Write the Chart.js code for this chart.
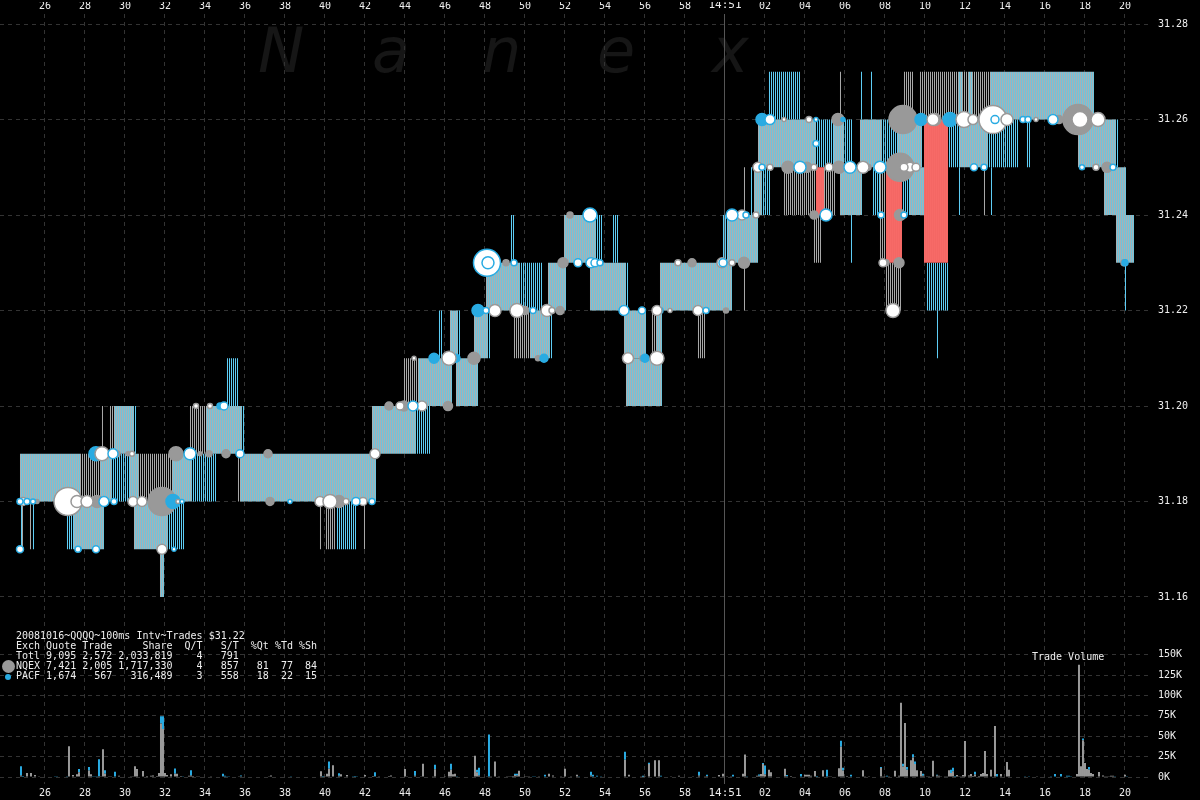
<!DOCTYPE html>
<html>
<head>
<meta charset="utf-8">
<title>QQQQ trades</title>
<script src="https://cdn.jsdelivr.net/npm/chart.js@4/dist/chart.umd.min.js"></script>
<style>
  html, body { margin: 0; padding: 0; background: #000; overflow: hidden; }
  #wrap { position: relative; width: 1200px; height: 800px; }
  #mark { position: absolute; left: 0; top: 1px; color: #161616; font: italic 62px "DejaVu Sans", sans-serif; }
  #mark span { position: absolute; top: 0; line-height: 100px; }
  #prod-chart { position: absolute; left: 0; top: 0; }
  #stats { position: absolute; left: 16px; top: 631px; margin: 0; color: #eee; font: 10px/10px "DejaVu Sans Mono", monospace; }
  #volume-title { position: absolute; left: 1032px; top: 652px; color: #eee; font: 10px/10px "DejaVu Sans Mono", monospace; }
  .dot { position: absolute; border-radius: 50%; }
</style>
</head>
<body>
<div id="wrap">
  <div id="mark"></div>
  <canvas id="prod-chart" width="1200" height="800"></canvas>
  <pre id="stats"></pre>
  <div id="volume-title">Trade Volume</div>
  <div class="dot" style="left:2px;top:660px;width:13px;height:13px;background:#999"></div>
  <div class="dot" style="left:5px;top:674px;width:6px;height:6px;background:#29abe2"></div>
</div>
<script>
'use strict';
// ******* TEXT ********
let markLetters = ['N', 'a', 'n', 'e', 'x'];
let markLefts = [258, 372, 482, 597, 712];
let statsLines = [
  '20081016~QQQQ~100ms Intv~Trades $31.22',
  'Exch Quote Trade     Share  Q/T   S/T  %Qt %Td %Sh',
  'Totl 9,095 2,572 2,033,819    4   791',
  'NQEX 7,421 2,005 1,717,330    4   857   81  77  84',
  'PACF 1,674   567   316,489    3   558   18  22  15'
];

// ******* TICKS ********
let secondTicks = [26, 28, 30, 32, 34, 36, 38, 40, 42, 44, 46, 48, 50, 52, 54, 56, 58, 60, 62, 64, 66, 68, 70, 72, 74, 76, 78, 80];
let secondLabels = ['26', '28', '30', '32', '34', '36', '38', '40', '42', '44', '46', '48', '50', '52', '54', '56', '58', '14:51', '02', '04', '06', '08', '10', '12', '14', '16', '18', '20'];
let priceTicks = [31.16, 31.18, 31.20, 31.22, 31.24, 31.26, 31.28];
let volumeTicks = [0, 25000, 50000, 75000, 100000, 125000, 150000];
let volumeLabels = ['0K', '25K', '50K', '75K', '100K', '125K', '150K'];

// ******* QUOTES: [from second, to second, low, high] ********
let bothQuotes = [
  [24.8, 27.8, 31.18, 31.19], [28.8, 29.4, 31.18, 31.19], [30.3, 30.7, 31.18, 31.19],
  [32.4, 33.4, 31.18, 31.19], [35.8, 42.6, 31.18, 31.19],
  [29.5, 30.5, 31.19, 31.20], [34.1, 35.9, 31.19, 31.20], [42.4, 44.6, 31.19, 31.20],
  [27.5, 29.0, 31.17, 31.18], [30.5, 32.2, 31.17, 31.18], [31.8, 32.0, 31.16, 31.17],
  [44.7, 46.4, 31.20, 31.21], [46.6, 47.7, 31.20, 31.21], [55.1, 56.4, 31.20, 31.21], [56.4, 56.9, 31.20, 31.21],
  [46.3, 46.7, 31.21, 31.22], [47.5, 48.2, 31.21, 31.22], [50.3, 51.3, 31.21, 31.22],
  [55.0, 56.1, 31.21, 31.22], [56.6, 56.9, 31.21, 31.22],
  [48.1, 49.8, 31.22, 31.23], [51.2, 52.1, 31.22, 31.23], [53.3, 55.1, 31.22, 31.23], [56.8, 60.4, 31.22, 31.23],
  [52.0, 53.6, 31.23, 31.24], [60.2, 61.7, 31.23, 31.24], [79.6, 80.5, 31.23, 31.24],
  [61.5, 61.9, 31.24, 31.25], [65.8, 66.9, 31.24, 31.25], [69.3, 70.0, 31.24, 31.25], [79.0, 80.1, 31.24, 31.25],
  [61.7, 64.6, 31.25, 31.26], [65.5, 66.0, 31.25, 31.26], [66.8, 67.9, 31.25, 31.26],
  [68.7, 69.9, 31.25, 31.26], [71.8, 73.2, 31.25, 31.26], [77.7, 79.6, 31.25, 31.26],
  [73.3, 78.5, 31.26, 31.27], [72.2, 72.4, 31.26, 31.27], [71.7, 71.9, 31.26, 31.27]
];
let nqexQuotes = [
  [27.8, 28.8, 31.18, 31.19], [30.7, 32.4, 31.18, 31.19], [35.7, 35.8, 31.18, 31.19],
  [28.9, 29.0, 31.19, 31.20], [29.3, 29.5, 31.19, 31.20], [33.3, 34.1, 31.19, 31.20],
  [24.9, 25.0, 31.17, 31.18], [25.3, 25.4, 31.17, 31.18], [39.8, 39.9, 31.17, 31.18],
  [40.1, 40.6, 31.17, 31.18], [42.0, 42.1, 31.17, 31.18],
  [44.0, 44.7, 31.20, 31.21], [49.5, 50.3, 31.21, 31.22], [56.4, 56.6, 31.21, 31.22], [58.7, 59.1, 31.21, 31.22],
  [61.0, 61.1, 31.24, 31.25], [63.0, 64.6, 31.24, 31.25], [65.0, 65.6, 31.24, 31.25], [67.8, 68.1, 31.24, 31.25], [73.0, 73.1, 31.24, 31.25],
  [69.0, 69.5, 31.26, 31.27], [69.8, 71.7, 31.26, 31.27], [71.9, 72.2, 31.26, 31.27], [72.4, 73.3, 31.26, 31.27], [65.8, 65.9, 31.26, 31.27],
  [64.5, 64.9, 31.23, 31.24], [67.8, 68.1, 31.23, 31.24],
  [68.1, 68.9, 31.22, 31.23], [61.0, 61.1, 31.22, 31.23], [60.1, 60.2, 31.22, 31.23]
];
let pacfQuotes = [
  [29.4, 30.3, 31.18, 31.19], [33.4, 34.6, 31.18, 31.19],
  [30.5, 30.6, 31.19, 31.20], [35.9, 36.0, 31.19, 31.20], [44.6, 45.3, 31.19, 31.20],
  [35.1, 35.7, 31.20, 31.21],
  [24.8, 24.9, 31.17, 31.18], [25.4, 25.5, 31.17, 31.18], [27.1, 27.5, 31.17, 31.18], [32.2, 33.0, 31.17, 31.18], [40.6, 41.6, 31.17, 31.18],
  [45.7, 45.9, 31.21, 31.22], [46.7, 46.8, 31.21, 31.22], [48.2, 48.3, 31.21, 31.22], [51.3, 51.4, 31.21, 31.22], [70.6, 70.7, 31.21, 31.22],
  [49.8, 50.9, 31.22, 31.23], [55.1, 55.2, 31.22, 31.23], [70.1, 71.2, 31.22, 31.23], [80.0, 80.1, 31.22, 31.23],
  [49.3, 49.5, 31.23, 31.24], [53.6, 53.9, 31.23, 31.24], [54.4, 54.7, 31.23, 31.24], [59.9, 60.2, 31.23, 31.24], [66.3, 66.4, 31.23, 31.24],
  [61.3, 61.4, 31.24, 31.25], [61.9, 62.3, 31.24, 31.25], [67.4, 67.8, 31.24, 31.25], [68.9, 69.3, 31.24, 31.25], [71.7, 71.8, 31.24, 31.25], [73.3, 73.4, 31.24, 31.25],
  [64.6, 65.5, 31.25, 31.26], [66.0, 66.4, 31.25, 31.26], [67.9, 68.7, 31.25, 31.26], [71.2, 71.8, 31.25, 31.26], [73.2, 74.7, 31.25, 31.26], [75.1, 75.3, 31.25, 31.26], [79.6, 79.7, 31.25, 31.26],
  [62.2, 63.8, 31.26, 31.27], [66.8, 66.9, 31.26, 31.27], [67.3, 67.4, 31.26, 31.27]
];
let crossedQuotes = [
  [64.6, 65.0, 31.24, 31.25], [68.1, 68.9, 31.23, 31.25], [70.0, 71.2, 31.23, 31.26]
];

// ******* TRADES: [second, price, shares] ********
let grayTrades = [
  [25.6, 31.18, 1600], [31.85, 31.18, 78400], [37.25, 31.18, 6400], [28.6, 31.18, 14400], [40.7, 31.18, 14400],
  [29.6, 31.19, 3600], [30.15, 31.19, 1600], [32.55, 31.19, 19600], [33.75, 31.19, 1600], [34.2, 31.19, 3600],
  [35.05, 31.19, 6400], [37.15, 31.19, 6400], [43.2, 31.20, 6400], [43.95, 31.20, 10000], [46.15, 31.20, 8100],
  [47.45, 31.21, 14400], [50.65, 31.21, 2500], [50.0, 31.22, 6400], [51.75, 31.22, 6400], [60.05, 31.22, 2500],
  [49.05, 31.23, 3600], [51.9, 31.23, 10000], [58.35, 31.23, 6400], [52.25, 31.24, 3600], [60.95, 31.23, 12100],
  [68.05, 31.23, 3600], [68.7, 31.23, 10000], [64.45, 31.24, 6400], [68.75, 31.24, 12100], [63.15, 31.25, 14400],
  [64.1, 31.25, 10000], [65.7, 31.25, 14400], [67.15, 31.25, 3600], [68.75, 31.25, 78400], [79.1, 31.25, 10000],
  [65.65, 31.26, 14400], [68.9, 31.26, 78400], [70.5, 31.26, 14400], [76.7, 31.26, 6400], [77.65, 31.26, 90000],
  [55.9, 31.21, 3600], [79.95, 31.23, 3600]
];
let blueTrades = [
  [28.55, 31.19, 19600], [32.4, 31.18, 19600], [34.75, 31.20, 3600], [45.45, 31.21, 10000], [46.55, 31.21, 6400],
  [50.95, 31.21, 6400], [56.0, 31.21, 6400], [47.65, 31.22, 14400], [56.75, 31.22, 3600], [61.85, 31.26, 14400],
  [65.9, 31.26, 1600], [69.8, 31.26, 14400], [71.25, 31.26, 19600], [80.0, 31.23, 3600], [27.7, 31.17, 1600]
];
let whiteGrayTrades = [
  [27.15, 31.18, 78400], [73.4, 31.26, 78400],
  [27.6, 31.18, 14400], [28.1, 31.18, 14400], [24.9, 31.18, 6400], [30.4, 31.18, 10000], [30.85, 31.18, 10000],
  [32.65, 31.18, 1600], [39.75, 31.18, 10000], [40.25, 31.18, 19600], [28.85, 31.19, 19600], [42.5, 31.19, 10000],
  [43.75, 31.20, 6400], [31.85, 31.17, 10000], [46.2, 31.21, 19600], [56.6, 31.21, 19600], [55.15, 31.21, 12100],
  [48.5, 31.22, 14400], [49.6, 31.22, 19600], [51.1, 31.22, 14400], [56.6, 31.22, 10000], [58.65, 31.22, 10000],
  [59.85, 31.23, 10000], [60.85, 31.24, 10000], [67.9, 31.23, 6400], [68.4, 31.22, 19600], [61.65, 31.25, 10000],
  [65.2, 31.25, 6400], [66.9, 31.25, 14400], [69.25, 31.25, 10000], [69.55, 31.25, 6400], [70.4, 31.26, 14400],
  [71.95, 31.26, 25600], [72.4, 31.26, 10000], [74.1, 31.26, 14400], [78.65, 31.26, 19600], [77.75, 31.26, 25600],
  [41.9, 31.18, 6400], [30.35, 31.19, 2500], [33.55, 31.20, 2500], [34.25, 31.20, 2500], [41.05, 31.18, 3600],
  [44.45, 31.21, 1600], [44.85, 31.20, 10000], [57.25, 31.22, 1600], [57.65, 31.23, 3600], [60.35, 31.23, 3600],
  [61.55, 31.24, 3600], [62.25, 31.25, 3600], [64.45, 31.25, 3600], [62.95, 31.26, 1600], [64.2, 31.26, 3600],
  [51.35, 31.22, 3600], [68.95, 31.25, 6400], [75.55, 31.26, 1600], [78.55, 31.25, 3600]
];
let whiteBlueTrades = [
  [48.1, 31.23, 72900], [48.15, 31.23, 14400],
  [24.75, 31.18, 3600], [25.1, 31.18, 3600], [25.4, 31.18, 2500], [28.95, 31.18, 10000], [29.45, 31.18, 3600],
  [32.85, 31.18, 1600], [38.25, 31.18, 1600], [41.55, 31.18, 6400], [42.35, 31.18, 3600], [29.4, 31.19, 10000],
  [33.25, 31.19, 14400], [35.75, 31.19, 6400], [34.95, 31.20, 6400], [44.4, 31.20, 10000], [24.75, 31.17, 4900],
  [27.65, 31.17, 3600], [28.55, 31.17, 4900], [32.45, 31.17, 1600], [48.05, 31.22, 3600], [50.4, 31.22, 3600],
  [54.95, 31.22, 10000], [55.85, 31.22, 4900], [59.05, 31.22, 3600], [49.45, 31.23, 3600], [52.65, 31.23, 6400],
  [53.3, 31.23, 10000], [53.5, 31.23, 6400], [53.75, 31.23, 3600], [60.35, 31.24, 14400], [53.25, 31.24, 19600],
  [59.9, 31.23, 6400], [61.05, 31.24, 3600], [65.05, 31.24, 14400], [67.8, 31.24, 3600], [68.95, 31.24, 3600],
  [61.85, 31.25, 3600], [63.75, 31.25, 14400], [66.25, 31.25, 14400], [67.75, 31.25, 14400], [72.45, 31.25, 4900],
  [72.95, 31.25, 3600], [77.85, 31.25, 2500], [79.4, 31.25, 3600], [64.55, 31.255, 3600], [62.25, 31.26, 10000],
  [64.55, 31.26, 1600], [74.9, 31.26, 3600], [75.15, 31.26, 3600], [76.4, 31.26, 10000], [73.5, 31.26, 6400]
];

// ******* VOLUME: [second, nqex shares, pacf shares] ********
let volumeBars = [
  [24.8, 2000, 11100], [24.9, 0, 1200], [25.1, 4900, 0], [25.3, 4900, 0], [25.5, 2500, 0], [25.7, 800, 0],
  [26.5, 0, 400], [26.6, 0, 400], [27.1, 0, 800], [27.2, 37700, 0], [27.4, 2500, 0], [27.6, 3300, 0], [27.7, 6000, 3800],
  [28.2, 8000, 4300], [28.3, 3300, 0], [28.4, 0, 400], [28.5, 0, 400], [28.6, 0, 400], [28.7, 1000, 20700], [28.8, 400, 0],
  [28.9, 34000, 0], [29.0, 4000, 4200], [29.2, 400, 0], [29.3, 400, 0], [29.5, 0, 6600], [29.7, 1600, 0],
  [30.3, 400, 0], [30.4, 400, 0], [30.5, 13100, 0], [30.6, 9800, 0], [30.9, 7400, 0], [31.1, 1200, 0], [31.3, 1600, 0], [31.4, 2000, 0],
  [31.6, 1200, 0], [31.7, 4900, 0], [31.8, 65600, 9000], [31.9, 59000, 15600], [32.0, 4900, 0], [32.1, 2500, 0],
  [32.3, 3300, 0], [32.5, 4000, 6600], [32.6, 4100, 0], [32.8, 1200, 0], [32.9, 0, 800], [33.2, 1600, 0], [33.3, 2000, 6200],
  [33.4, 1200, 0], [33.6, 400, 0], [33.7, 400, 0], [34.3, 400, 0], [34.9, 1000, 3100], [35.0, 0, 1600], [35.1, 0, 400], [35.2, 0, 400],
  [35.7, 800, 0], [35.8, 1000, 1000], [37.2, 400, 0], [37.3, 2000, 0], [38.3, 0, 800], [39.8, 7000, 0], [39.9, 0, 1200], [40.0, 400, 0],
  [40.1, 4000, 0], [40.2, 10000, 9000], [40.4, 14400, 0], [40.7, 1500, 3000], [40.8, 3300, 0], [41.1, 2500, 0], [41.4, 0, 400],
  [41.5, 0, 1200], [41.6, 0, 800], [42.0, 2500, 0], [42.4, 1200, 0], [42.5, 1000, 4700], [42.7, 400, 0], [43.2, 1200, 0], [43.3, 2000, 0],
  [44.0, 9800, 0], [44.1, 400, 0], [44.5, 1600, 5800], [44.8, 400, 0], [44.9, 16400, 0], [45.4, 400, 0], [45.5, 9500, 5700],
  [46.0, 400, 0], [46.2, 6600, 0], [46.3, 9000, 7400], [46.4, 3300, 0], [46.5, 4100, 0], [46.6, 0, 800],
  [47.5, 26200, 0], [47.6, 6000, 3000], [47.7, 2000, 9500], [48.1, 400, 0], [48.2, 0, 52100], [48.3, 400, 0], [48.5, 18900, 0], [48.7, 400, 0],
  [49.1, 400, 0], [49.2, 400, 0], [49.3, 400, 0], [49.4, 1200, 0], [49.5, 2500, 1600], [49.6, 2000, 2100], [49.7, 7800, 0],
  [50.0, 400, 0], [50.1, 400, 0], [50.2, 400, 0], [50.4, 0, 400], [50.5, 0, 400], [50.7, 400, 0], [51.0, 0, 2900], [51.2, 4100, 0], [51.4, 2000, 0],
  [51.8, 400, 0], [52.0, 10200, 0], [52.3, 400, 0], [52.6, 2900, 0], [52.7, 0, 400], [53.3, 2000, 4600], [53.4, 0, 2900], [53.6, 0, 1600], [53.8, 0, 400],
  [55.0, 21300, 9800], [55.2, 2900, 0], [55.8, 400, 0], [55.9, 200, 1400], [56.0, 400, 0], [56.2, 16000, 1600], [56.5, 20500, 0], [56.7, 20500, 0], [56.8, 0, 1600],
  [57.3, 400, 0], [57.7, 1600, 0], [58.4, 400, 0], [58.7, 2000, 4500], [59.0, 800, 0], [59.1, 1200, 1600], [59.7, 2500, 0], [59.9, 4100, 0],
  [60.1, 400, 0], [60.3, 400, 0], [60.4, 0, 2900], [60.9, 4100, 0], [61.0, 27500, 0], [61.1, 0, 400], [61.6, 1600, 0], [61.7, 1600, 1600], [61.8, 3700, 0],
  [61.9, 16000, 1200], [62.0, 3000, 11000], [62.2, 9000, 0], [62.3, 5700, 0], [63.0, 10200, 0], [63.1, 1000, 1500], [63.3, 1200, 0],
  [63.8, 0, 3700], [64.0, 2900, 0], [64.1, 2900, 0], [64.2, 2900, 0], [64.3, 1600, 0], [64.5, 7400, 0], [64.6, 0, 1200], [64.9, 8200, 0], [65.1, 0, 9000],
  [65.2, 400, 0], [65.3, 400, 0], [65.7, 10700, 0], [65.8, 37000, 7400], [65.9, 8000, 3500], [66.1, 1200, 0], [66.3, 0, 2900], [66.9, 8200, 0], [67.0, 800, 0], [67.2, 400, 0],
  [67.8, 11000, 1300], [67.9, 400, 0], [68.0, 400, 0], [68.1, 0, 1600], [68.2, 400, 0], [68.5, 7800, 0], [68.7, 1600, 0], [68.8, 91000, 0], [68.9, 13000, 3400],
  [69.0, 66400, 0], [69.1, 9000, 3300], [69.3, 20500, 0], [69.4, 24000, 3900], [69.5, 16000, 2900], [69.6, 8200, 0], [69.8, 7400, 0], [69.9, 1500, 2600],
  [70.1, 400, 0], [70.2, 400, 0], [70.4, 20100, 0], [70.6, 2000, 900], [70.7, 1600, 0], [70.8, 800, 0], [71.0, 400, 0], [71.1, 400, 0], [71.2, 8200, 0],
  [71.3, 5000, 4000], [71.4, 7000, 4500], [71.5, 0, 1200], [71.6, 2500, 0], [71.7, 400, 0], [71.8, 400, 0], [71.9, 2500, 0], [72.0, 44300, 0], [72.2, 2000, 0],
  [72.3, 3700, 0], [72.4, 1200, 0], [72.5, 3000, 3500], [72.7, 1200, 0], [72.8, 3700, 0], [72.9, 4900, 0], [73.0, 32000, 0], [73.1, 3700, 0], [73.3, 9000, 0],
  [73.5, 62700, 0], [73.6, 0, 3700], [73.8, 3700, 0], [74.1, 18500, 0], [74.2, 9000, 0], [75.0, 0, 400], [75.2, 0, 400], [75.6, 400, 0], [76.3, 0, 400],
  [76.5, 0, 3700], [76.8, 0, 3700], [77.1, 0, 1600], [77.2, 0, 1600], [77.3, 0, 400], [77.6, 3700, 0], [77.7, 137800, 0], [77.8, 13100, 0], [77.9, 45000, 2200],
  [78.0, 17200, 0], [78.1, 9800, 0], [78.2, 9000, 3300], [78.3, 4900, 0], [78.4, 3700, 0], [78.7, 6100, 0], [78.9, 2000, 0], [79.0, 400, 0], [79.1, 400, 0], [79.2, 400, 0],
  [79.3, 1600, 0], [79.4, 1600, 0], [79.5, 0, 400], [80.0, 2900, 0], [80.1, 0, 400]
];


// ******* HELPERS ********
// each quote row holds for a run of 100ms intervals, one stripe per interval
function stripes(rows, shift) {
  let bars = [];
  for (let i = 0; i < rows.length; i++) {
    let first = Math.round(rows[i][0] * 10);
    let last = Math.round(rows[i][1] * 10);
    for (let n = first; n < last; n++) {
      bars.push({ x: n / 10 + shift, y: [rows[i][2], rows[i][3]] });
    }
  }
  return bars;
}

function bubbles(rows) {
  return rows.map(function (row) {
    return { x: row[0], y: row[1], r: Math.sqrt(row[2]) * 0.05 };
  });
}

function quoteSet(rows, color, width, shift, order) {
  return {
    type: 'bar',
    data: stripes(rows, shift),
    xAxisID: 'x',
    yAxisID: 'y',
    backgroundColor: color,
    borderWidth: 0,
    inflateAmount: 0,
    grouped: false,
    barPercentage: 20,
    maxBarThickness: width,
    order: order
  };
}

function volumeSet(column, color, order) {
  return {
    type: 'bar',
    data: volumeBars.map(function (row) {
      return { x: row[0], y: row[column] };
    }),
    xAxisID: 'x',
    yAxisID: 'yVolume',
    stack: 'volume',
    backgroundColor: color,
    borderWidth: 0,
    inflateAmount: 0,
    grouped: false,
    barPercentage: 20,
    maxBarThickness: 2,
    order: order
  };
}

function tradeSet(rows, fill, line, order) {
  return {
    type: 'bubble',
    data: bubbles(rows),
    xAxisID: 'x',
    yAxisID: 'y',
    backgroundColor: fill,
    borderColor: line,
    borderWidth: 1.5,
    order: order
  };
}

function fixedTicks(values) {
  return function (axis) {
    axis.ticks = values.map(function (value) {
      return { value: value };
    });
  };
}


// ******* EXECUTABLE CODE ********
let markElem = document.getElementById('mark');
for (let i = 0; i < markLetters.length; i++) {
  let letter = document.createElement('span');
  letter.textContent = markLetters[i];
  letter.style.left = markLefts[i] + 'px';
  markElem.appendChild(letter);
}
document.getElementById('stats').textContent = statsLines.join('\n');

let tickFont = { family: '"DejaVu Sans Mono", monospace', size: 10 };
let hugeFont = { family: '"DejaVu Sans Mono", monospace', size: 11 };
let dashGrid = { color: '#333', drawTicks: false };

let firstSecond = 23.7505;
let lastSecond = firstSecond + 57.5;

let chartObj = {
  type: 'bar',
  data: {
    datasets: [
      tradeSet(whiteBlueTrades, '#fff', '#29abe2', 1),
      tradeSet(whiteGrayTrades, '#fff', '#999', 2),
      tradeSet(blueTrades, '#29abe2', '#29abe2', 3),
      tradeSet(grayTrades, '#999', '#999', 4),
      quoteSet(crossedQuotes, '#f76a67', 2, 0, 5),
      quoteSet(bothQuotes, '#aab4b8', 1, -0.025, 6),
      quoteSet(bothQuotes, '#70c8e0', 1, 0.025, 7),
      quoteSet(nqexQuotes, '#aaa', 1, -0.025, 8),
      quoteSet(pacfQuotes, '#60d0f8', 1, 0.025, 9),
      volumeSet(1, '#999', 10),
      volumeSet(2, '#29abe2', 11)
    ]
  },
  options: {
    responsive: false,
    animation: false,
    events: [],
    layout: { padding: 0, autoPadding: false },
    plugins: { legend: { display: false }, tooltip: { enabled: false } },
    scales: {
      x: {
        type: 'linear',
        position: 'bottom',
        offset: false,
        min: firstSecond,
        max: lastSecond,
        afterBuildTicks: fixedTicks(secondTicks),
        afterFit: function (axis) { axis.height = 16; },
        border: {
          display: false,
          dash: function (ctx) { return ctx.tick && ctx.tick.value === 60 ? [] : [4, 4]; }
        },
        grid: {
          offset: false,
          drawTicks: false,
          color: function (ctx) { return ctx.tick && ctx.tick.value === 60 ? '#555' : '#333'; }
        },
        ticks: {
          autoSkip: false,
          maxRotation: 0,
          padding: 3,
          color: '#eee',
          font: function (ctx) { return ctx.tick && ctx.tick.value === 60 ? hugeFont : tickFont; },
          callback: function (value, index) { return secondLabels[index]; }
        }
      },
      xTop: {
        type: 'linear',
        position: 'top',
        offset: false,
        min: firstSecond,
        max: lastSecond,
        afterBuildTicks: fixedTicks(secondTicks),
        afterFit: function (axis) { axis.height = 12; },
        border: { display: false },
        grid: { display: false, drawTicks: false },
        ticks: {
          autoSkip: false,
          maxRotation: 0,
          padding: 2,
          color: '#eee',
          font: function (ctx) { return ctx.tick && ctx.tick.value === 60 ? hugeFont : tickFont; },
          callback: function (value, index) { return secondLabels[index]; }
        }
      },
      y: {
        type: 'linear',
        position: 'right',
        stack: 'panes',
        stackWeight: 603,
        min: 31.27 - (615 - 70) / 4786,
        max: 31.27 + (70 - 12) / 4786,
        afterBuildTicks: fixedTicks(priceTicks),
        afterFit: function (axis) { axis.width = 50; },
        border: { display: false, dash: [4, 4] },
        grid: dashGrid,
        ticks: {
          autoSkip: false,
          crossAlign: 'near',
          padding: 8,
          color: '#eee',
          font: tickFont,
          callback: function (value) { return value.toFixed(2); }
        }
      },
      yVolume: {
        type: 'linear',
        position: 'right',
        stack: 'panes',
        stackWeight: 169,
        stacked: true,
        min: -8564,
        max: 198206,
        afterBuildTicks: fixedTicks(volumeTicks),
        afterFit: function (axis) { axis.width = 50; },
        border: { display: false, dash: [4, 4] },
        grid: dashGrid,
        ticks: {
          autoSkip: false,
          crossAlign: 'near',
          padding: 8,
          color: '#eee',
          font: tickFont,
          callback: function (value, index) { return volumeLabels[index]; }
        }
      }
    }
  }
};

new Chart(document.getElementById('prod-chart'), chartObj);
</script>
</body>
</html>
